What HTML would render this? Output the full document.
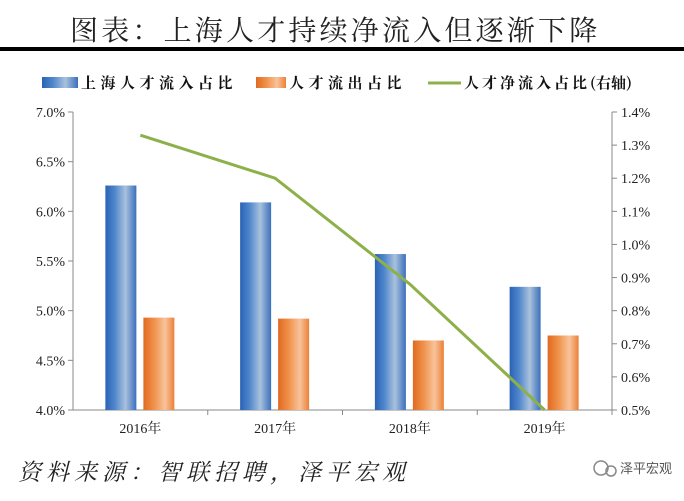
<!DOCTYPE html>
<html><head><meta charset="utf-8"><style>
body{margin:0;width:684px;height:496px;background:#fff;overflow:hidden;font-family:"Liberation Serif","Noto Serif CJK SC",serif}
</style></head><body>
<svg width="684" height="496" xmlns="http://www.w3.org/2000/svg">
<defs>
<linearGradient id="gb" x1="0" x2="1" y1="0" y2="0"><stop offset="0" stop-color="#2a63b5"/><stop offset="0.3" stop-color="#4f86cc"/><stop offset="0.65" stop-color="#a9c1dc"/><stop offset="1" stop-color="#3b70bd"/></linearGradient>
<linearGradient id="go" x1="0" x2="1" y1="0" y2="0"><stop offset="0" stop-color="#e06a22"/><stop offset="0.35" stop-color="#f0924c"/><stop offset="0.7" stop-color="#f8c39a"/><stop offset="1" stop-color="#ec8138"/></linearGradient>
</defs>
<text x="70" y="40" font-size="28" letter-spacing="3.2" fill="#222" font-family="'Noto Serif CJK SC',serif">图表：上海人才持续净流入但逐渐下降</text>
<rect x="0" y="47" width="684" height="4" fill="#000"/>
<g font-size="15" font-weight="bold" fill="#111" font-family="'Noto Serif CJK SC',serif">
<rect x="42" y="77" width="36" height="11" fill="url(#gb)"/>
<text x="81" y="88" letter-spacing="4.5">上海人才流入占比</text>
<rect x="256" y="77" width="30" height="11" fill="url(#go)"/>
<text x="289" y="88" letter-spacing="4.5">人才流出占比</text>
<line x1="428" y1="83" x2="461" y2="83" stroke="#8db04a" stroke-width="3"/>
<text x="464" y="88" letter-spacing="3"><tspan>人才净流入占比</tspan><tspan letter-spacing="0">(右轴)</tspan></text>
</g>
<g id="plot"></g>
<text x="18" y="480" font-size="23" letter-spacing="5" font-style="italic" fill="#222" font-family="'Noto Serif CJK SC',serif">资料来源：智联招聘，泽平宏观</text>
<circle cx="601" cy="468" r="7" fill="none" stroke="#888" stroke-width="1.5"/>
<circle cx="611" cy="471" r="5" fill="none" stroke="#888" stroke-width="1.5"/>
<text x="620" y="473" font-size="13" fill="#555" font-family="'Noto Sans CJK SC',sans-serif">泽平宏观</text>
</svg>
<script>
const categories=["2016年","2017年","2018年","2019年"];
const inflow=[6.26,6.09,5.57,5.24];
const outflow=[4.93,4.92,4.70,4.75];
const net=[1.33,1.20,0.88,0.50];
const leftTicks=[4.0,4.5,5.0,5.5,6.0,6.5,7.0];
const rightTicks=[0.5,0.6,0.7,0.8,0.9,1.0,1.1,1.2,1.3,1.4];
const NS="http://www.w3.org/2000/svg";
const g=document.getElementById('plot');
const X0=73,X1=612,Y0=410,Y1=112;
const yL=v=>Y0-(v-4)/3*(Y0-Y1);
const yR=v=>Y0-(v-0.5)/0.9*(Y0-Y1);
const bw=(X1-X0)/categories.length;
const xc=i=>X0+bw*(i+0.5);
function mk(t,a){const e=document.createElementNS(NS,t);for(const k in a)e.setAttribute(k,a[k]);g.appendChild(e);return e;}
let e;
e=mk('line',{x1:X0,y1:Y1,x2:X0,y2:Y0,stroke:'#888'});


e=mk('line',{x1:X1,y1:Y1,x2:X1,y2:Y0,stroke:'#888'});


e=mk('line',{x1:X0,y1:Y0,x2:X1,y2:Y0,stroke:'#888'});


leftTicks.forEach(v=>{const y=yL(v);mk('line',{x1:X0-5,y1:y,x2:X0,y2:y,stroke:'#888'});
e=mk('text',{x:X0-8,y:y+5,'text-anchor':'end','font-size':14,fill:'#222'});e.textContent=v.toFixed(1)+'%';

});
rightTicks.forEach(v=>{const y=yR(v);mk('line',{x1:X1,y1:y,x2:X1+5,y2:y,stroke:'#888'});
e=mk('text',{x:X1+9,y:y+5,'font-size':14,fill:'#222'});e.textContent=v.toFixed(1)+'%';

});
categories.forEach((c,i)=>{
mk('line',{x1:X0+bw*(i+1),y1:Y0,x2:X0+bw*(i+1),y2:Y0+5,stroke:'#888'});
e=mk('text',{x:xc(i),y:Y0+23,'text-anchor':'middle','font-size':14,fill:'#222'});e.textContent=c;


e=mk('rect',{x:xc(i)-35,y:yL(inflow[i]),width:31,height:Y0-yL(inflow[i]),fill:'url(#gb)'});


e=mk('rect',{x:xc(i)+3,y:yL(outflow[i]),width:31,height:Y0-yL(outflow[i]),fill:'url(#go)'});


});
e=mk('polyline',{points:net.map((v,i)=>xc(i)+','+yR(v)).join(' '),fill:'none',stroke:'#8db04a','stroke-width':3});


</script>
</body></html>
